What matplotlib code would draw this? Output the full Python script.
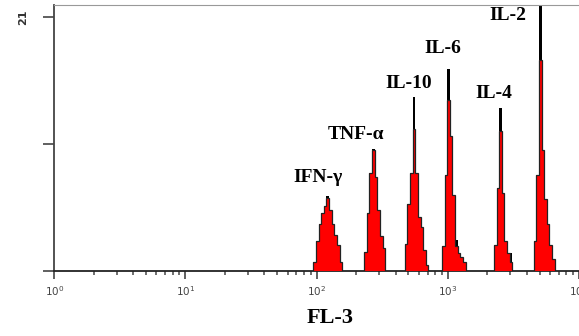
# Flow cytometry FL-3 histogram of six cytokine capture bead populations.

import numpy as np
import matplotlib.pyplot as plt

BIN_WIDTH = 0.02  # decades per channel

names = ["IFN-γ", "TNF-α", "IL-10", "IL-6", "IL-4", "IL-2"]
start_decade = [1.975, 2.362, 2.672, 2.955, 3.352, 3.655]

red_counts = [
    [0.8, 2.5, 3.9, 4.8, 5.4, 6.1, 5.1, 3.9, 3.0, 2.2, 0.8],
    [1.6, 4.8, 8.1, 10.0, 7.8, 5.1, 2.9, 1.9],
    [2.3, 5.6, 8.1, 11.8, 8.1, 4.5, 3.7, 1.8, 0.5],
    [2.1, 8.0, 14.2, 11.2, 6.3, 2.1, 1.5, 1.2, 0.8],
    [2.2, 6.9, 11.6, 6.5, 2.5, 1.5, 0.8],
    [2.5, 8.0, 17.5, 10.0, 6.0, 3.9, 2.2, 1.0],
]
black_counts = [
    [0.8, 2.5, 3.9, 4.8, 5.4, 6.2, 5.1, 3.9, 3.0, 2.2, 0.8],
    [1.6, 4.8, 8.1, 10.1, 7.8, 5.1, 2.9, 1.9],
    [2.3, 5.6, 8.1, 14.4, 8.1, 4.5, 3.7, 1.8, 0.5],
    [2.1, 8.0, 16.7, 11.2, 6.3, 2.6, 1.5, 1.2, 0.8],
    [2.2, 6.9, 13.5, 6.5, 2.5, 1.5, 1.5],
    [2.5, 8.0, 24.0, 10.0, 6.0, 3.9, 2.2, 1.0],
]

y_ticks = [0, 10.5, 21]
y_tick_labels = ["", "", "21"]

# label anchor positions (x in FL-3 units, y in counts)
label_pos = [(103, 7.8), (198, 11.3), (505, 15.5), (915, 18.4), (2230, 14.7), (2880, 21.1)]


def main():
    fig = plt.figure(figsize=(5.79, 3.36), dpi=100)
    ax = fig.add_axes([0.0938, 0.192, 1 - 0.0938, 0.793])

    for start, red, black in zip(start_decade, red_counts, black_counts):
        edges = 10 ** (start + BIN_WIDTH * np.arange(len(red) + 1))
        ax.stairs(black, edges, fill=True, color="black", zorder=2)
        ax.stairs(red, edges, fill=True, color="red", zorder=3)
        ax.stairs(red, edges, fill=False, color="#222222", linewidth=0.9, zorder=4)

    for name, (x, y) in zip(names, label_pos):
        ax.text(x, y, name, ha="center", va="center", fontsize=14,
                fontweight="bold", family="Liberation Serif", zorder=5)

    ax.set_xscale("log")
    ax.set_xlim(1, 10 ** 3.963)
    ax.set_ylim(0, 22)
    ax.set_yticks(y_ticks)
    ax.set_yticklabels(y_tick_labels, rotation=90, va="center",
                       fontsize=8, fontweight="bold", color="#333333")
    ax.set_xticks([1, 10, 100, 1000, 10000])
    ax.set_xticklabels([r"$10^0$", r"$10^1$", r"$10^2$", r"$10^3$", r"$10^4$"],
                       fontsize=7.5, color="#444444")
    ax.tick_params(axis="y", length=8, width=1.2, color="#444444", pad=11)
    ax.tick_params(axis="x", which="major", length=6, width=1.2, color="#444444", pad=3)
    ax.tick_params(axis="x", which="minor", length=3, width=1.2, color="#555555")

    ax.spines["right"].set_visible(False)
    ax.spines["top"].set_color("#999999")
    ax.spines["left"].set_color("#444444")
    ax.spines["bottom"].set_color("#222222")
    ax.spines["left"].set_linewidth(1.3)
    ax.spines["bottom"].set_linewidth(1.3)

    fig.text(0.57, 0.055, "FL-3", ha="center", va="center", fontsize=16,
             fontweight="bold", family="Liberation Serif")

    fig.savefig("out.png", dpi=100)


if __name__ == "__main__":
    main()
